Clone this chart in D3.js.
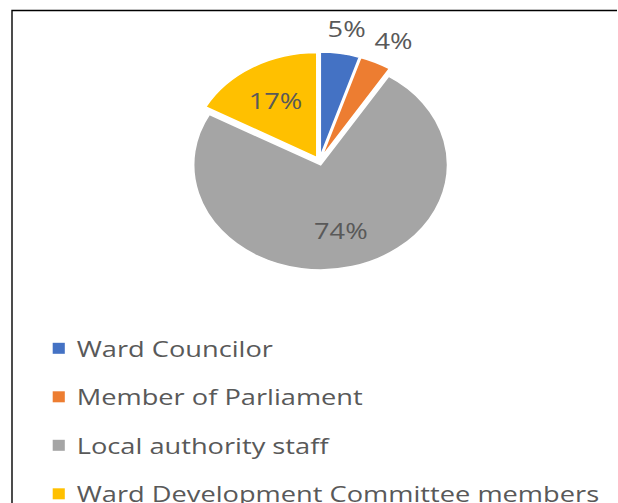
<!DOCTYPE html>
<html>
<head>
<meta charset="utf-8">
<script src="https://cdn.jsdelivr.net/npm/d3@7"></script>
<style>
  html, body { margin: 0; padding: 0; background: #fff; }
  svg { display: block; }
</style>
</head>
<body>
<svg id="chart" width="618" height="503"></svg>
<script>
// Who was consulted — share of respondents (%)
const categories = [
  "Ward Councilor",
  "Member of Parliament",
  "Local authority staff",
  "Ward Development Committee members"
];
const shares = [5, 4, 74, 17];
const sliceColors = ["#4472C4", "#ED7D31", "#A5A5A5", "#FFC000"];

const W = 618, H = 503;
const SX = 1.21;              // the whole figure is drawn horizontally stretched
const FONT = "'Open Sans', 'Noto Sans', sans-serif";
const FONT_SIZE = 22.5;
const TEXT_COLOR = "#595959";

const svg = d3.select("#chart");
svg.append("rect").attr("width", W).attr("height", H).attr("fill", "#fff");

// chart frame (top and left edges)
svg.append("path")
  .attr("d", "M12,503V10.5H617")
  .attr("fill", "none")
  .attr("stroke", "#000")
  .attr("stroke-width", 1.4);

const root = svg.append("g").attr("transform", `scale(${SX},1)`);

// ---- pie ----
const cx = 319.4 / SX, cy = 161, ry = 105, explode = 4;
const data = categories.map((name, i) => ({ name, value: shares[i], color: sliceColors[i] }));
const pie = d3.pie().sort(null).value(d => d.value);
const arcs = pie(data);
const arc = d3.arc().innerRadius(0).outerRadius(ry);

const pieG = root.append("g").attr("transform", `translate(${cx},${cy})`);

const mid = a => (a.startAngle + a.endAngle) / 2;

pieG.selectAll("path.slice")
  .data(arcs)
  .join("path")
  .attr("class", "slice")
  .attr("d", arc)
  .attr("fill", d => d.data.color)
  .attr("stroke", "#fff")
  .attr("stroke-width", 1.5)
  .attr("stroke-linejoin", "miter")
  .attr("transform", d => {
    const m = mid(d);
    return `translate(${explode * Math.sin(m)},${-explode * Math.cos(m)})`;
  });

// ---- data labels ----
const labels = pieG.selectAll("text.lbl")
  .data(arcs)
  .join("text")
  .attr("class", "lbl")
  .attr("font-family", FONT)
  .attr("font-size", FONT_SIZE)
  .attr("fill", TEXT_COLOR)
  .attr("text-anchor", "middle")
  .attr("dominant-baseline", "central")
  .text(d => d.data.value + "%");

labels.each(function (d) {
  const m = mid(d);
  const s = Math.sin(m), c = -Math.cos(m);
  const el = d3.select(this);
  const share = d.endAngle - d.startAngle;
  let x, y;
  if (share < 0.1 * 2 * Math.PI) {
    // small slices: label sits outside the rim
    const bb = this.getBBox();
    const R = ry + 16 + explode;
    x = R * s + s * bb.width * 0.6;
    y = R * c + c * bb.height * 0.3;
  } else {
    const R = 0.64 * ry + explode;
    x = R * s;
    y = R * c;
  }
  el.attr("x", x).attr("y", y);
});

// ---- legend ----
const legendX = 52.7 / SX, legendTextX = 76.7 / SX;
const legendTop = 348.3, legendStep = 48.5;
const legend = root.append("g");
const rows = legend.selectAll("g.row")
  .data(data)
  .join("g")
  .attr("class", "row")
  .attr("transform", (d, i) => `translate(0,${legendTop + i * legendStep})`);

rows.append("rect")
  .attr("x", legendX)
  .attr("y", -5.5)
  .attr("width", 10)
  .attr("height", 11)
  .attr("fill", d => d.color);

rows.append("text")
  .attr("x", legendTextX)
  .attr("y", 8.3)
  .attr("font-family", FONT)
  .attr("font-size", FONT_SIZE)
  .attr("fill", TEXT_COLOR)
  .text(d => d.name);
</script>
</body>
</html>
